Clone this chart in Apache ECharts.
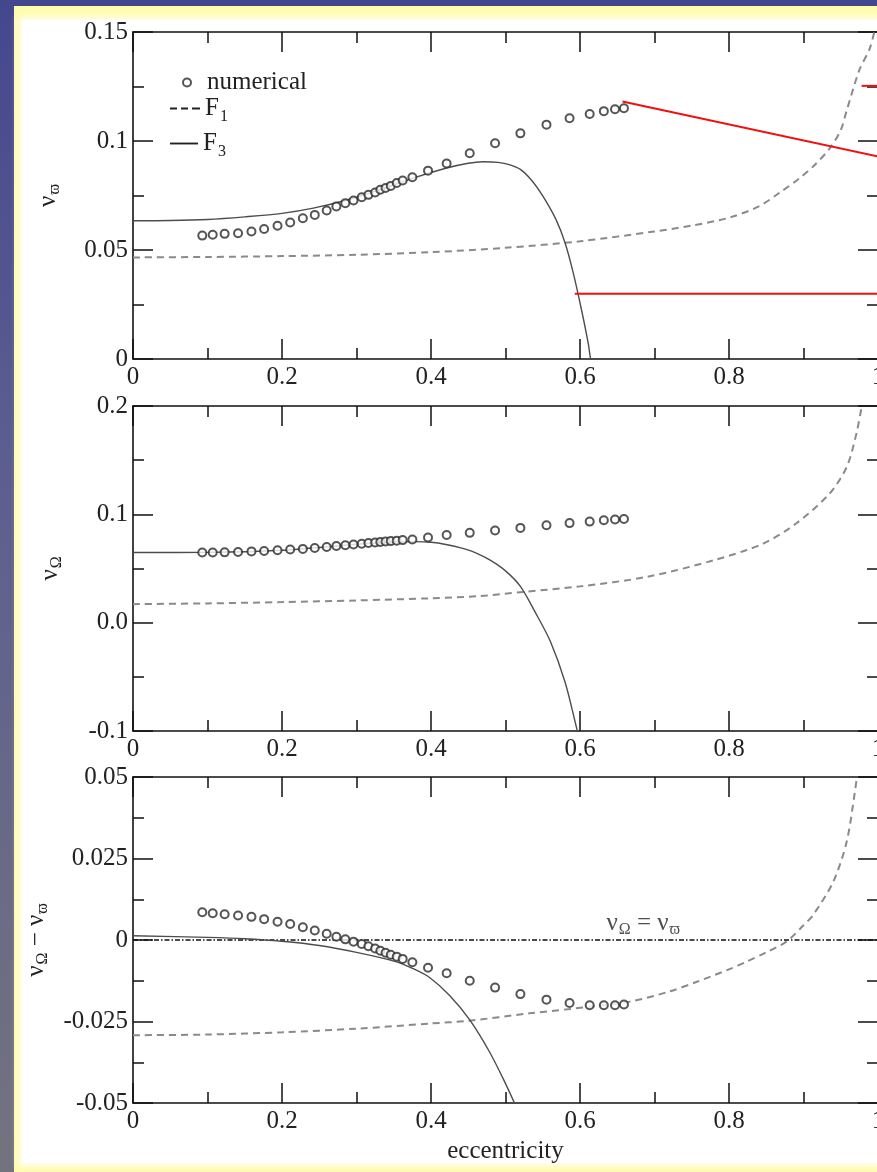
<!DOCTYPE html>
<html><head><meta charset="utf-8">
<script src="https://cdn.jsdelivr.net/npm/echarts@6/dist/echarts.min.js"></script>
<style>
html,body{margin:0;padding:0;width:877px;height:1172px;overflow:hidden;}
body{background:linear-gradient(to bottom,#45478e 0%,#5d5e90 40%,#73737f 100%);position:relative;}
#frame{position:absolute;left:14px;top:6px;right:0;bottom:0;background:#fffcab;}
#paper{position:absolute;left:22px;top:20px;right:0;bottom:9px;background:#fff;box-shadow:0 0 6px 4px #fffde8;}
#chart{position:absolute;left:0;top:0;width:877px;height:1172px;}
</style></head><body>
<div id="frame"></div><div id="paper"></div><div id="chart"></div>
<script>
// ---- data ----
const ecc = [0.093,0.107,0.123,0.141,0.159,0.176,0.194,0.211,0.228,0.244,0.260,0.273,0.285,0.296,0.307,0.316,0.325,0.332,0.339,0.346,0.354,0.362,0.375,0.396,0.421,0.452,0.486,0.520,0.555,0.586,0.613,0.632,0.647,0.659];
const numPeri = [0.0566,0.0570,0.0574,0.0577,0.0585,0.0596,0.0611,0.0626,0.0646,0.0661,0.0681,0.0700,0.0715,0.0727,0.0742,0.0753,0.0764,0.0776,0.0784,0.0794,0.0807,0.0819,0.0834,0.0864,0.0897,0.0944,0.0990,0.1035,0.1075,0.1104,0.1124,0.1137,0.1146,0.1150];
const numNode = [0.0648,0.0648,0.0649,0.0653,0.0658,0.0662,0.0668,0.0675,0.0681,0.0690,0.0699,0.0707,0.0714,0.0722,0.0729,0.0735,0.0741,0.0745,0.0749,0.0753,0.0757,0.0762,0.0768,0.0786,0.0810,0.0829,0.0850,0.0875,0.0900,0.0919,0.0933,0.0946,0.0952,0.0957];
const numDiff = [0.0085,0.0082,0.0079,0.0075,0.0071,0.0064,0.0056,0.0049,0.0039,0.0029,0.0019,0.0010,0.0002,-0.0005,-0.0012,-0.0019,-0.0026,-0.0033,-0.0039,-0.0045,-0.0051,-0.0058,-0.0068,-0.0085,-0.0102,-0.0125,-0.0146,-0.0166,-0.0183,-0.0193,-0.0200,-0.0200,-0.0200,-0.0198];

const f3PeriE = [0,0.05,0.1,0.15,0.2,0.242,0.286,0.331,0.376,0.421,0.45,0.47,0.49,0.505,0.52,0.535,0.55,0.568,0.58,0.591,0.602,0.611,0.614,0.616];
const f3PeriV = [0.0634,0.0635,0.0640,0.0652,0.0668,0.0692,0.0728,0.0776,0.0830,0.0876,0.0898,0.0905,0.0902,0.0892,0.0870,0.0820,0.0748,0.0638,0.0532,0.0394,0.0226,0.0073,0.0005,-0.0020];
const f1PeriE = [0,0.1,0.2,0.3,0.4,0.5,0.6,0.7,0.75,0.8,0.84,0.87,0.895,0.915,0.935,0.95,0.958,0.975,0.989,0.997];
const f1PeriV = [0.0466,0.0468,0.0472,0.0478,0.0490,0.0510,0.0540,0.0585,0.0612,0.0648,0.0700,0.0768,0.0830,0.0890,0.0965,0.1050,0.1140,0.1326,0.1425,0.1530];

const f3NodeE = [0,0.1,0.2,0.3,0.35,0.38,0.4,0.42,0.44,0.46,0.48,0.5,0.52,0.54,0.56,0.58,0.595,0.6];
const f3NodeV = [0.0648,0.0649,0.0668,0.0724,0.0745,0.0748,0.0742,0.0722,0.0690,0.0645,0.0575,0.0478,0.0335,0.0095,-0.0170,-0.0550,-0.0960,-0.1100];
const f1NodeE = [0,0.1,0.2,0.3,0.4,0.465,0.524,0.6,0.69,0.78,0.846,0.89,0.935,0.958,0.971,0.978,0.984];
const f1NodeV = [0.0171,0.0178,0.0190,0.0205,0.0225,0.0245,0.0284,0.0335,0.0423,0.0577,0.0730,0.0915,0.1192,0.1437,0.1745,0.1990,0.2200];

const f3DiffE = [0,0.1,0.15,0.2,0.25,0.3,0.354,0.376,0.398,0.425,0.452,0.479,0.501,0.512,0.518];
const f3DiffV = [0.0013,0.0008,0.0004,-0.0004,-0.0017,-0.0038,-0.0067,-0.0088,-0.0115,-0.0170,-0.0245,-0.0345,-0.0445,-0.0500,-0.0530];
const f1DiffE = [0,0.1,0.2,0.3,0.4,0.45,0.532,0.613,0.667,0.72,0.757,0.8,0.823,0.85,0.877,0.9,0.913,0.94,0.958,0.969,0.974];
const f1DiffV = [-0.0292,-0.0290,-0.0283,-0.0272,-0.0256,-0.0248,-0.0225,-0.0205,-0.0189,-0.0158,-0.0128,-0.0090,-0.0067,-0.0038,-0.0005,0.0045,0.0077,0.0179,0.0302,0.0455,0.0540];

const equalLineE = [0,1];
const equalLineV = [0,0];
const equalLabelAt = [0.685, 0];

// red annotation strokes over the top panel
const redA = [[0.657,0.1181],[1.0,0.0929]];
const redB = [[0.978,0.1253],[1.0,0.1253]];
const redC = [[0.593,0.0299],[1.0,0.0299]];

const xTickLabels = ['0','0.2','0.4','0.6','0.8','1'];
const yTickLabels1 = ['0','0.05','0.1','0.15'];
const yTickLabels2 = ['-0.1','0.0','0.1','0.2'];
const yTickLabels3 = ['-0.05','-0.025','0','0.025','0.05'];

// ---- chart ----
const FONT = 'Liberation Serif';
const INK = '#111';
const TXT = '#222';
const FS = 25;
const pairs = (xs, ys) => xs.map((x, i) => [x, ys[i]]);

const grids = [
  {left:133, top:32, width:745, height:327},
  {left:133, top:406, width:745, height:325},
  {left:133, top:777, width:745, height:326}
].map(g => Object.assign(g, {outerBoundsMode:'none', containLabel:false}));
const yCfg = [
  {min:0, max:0.15, interval:0.05, labels:yTickLabels1, name:'{n|ν}{s|ϖ}', gap:70},
  {min:-0.1, max:0.2, interval:0.1, labels:yTickLabels2, name:'{n|ν}{s|Ω}', gap:68},
  {min:-0.05, max:0.05, interval:0.025, labels:yTickLabels3, name:'{n|ν}{s|Ω}{n| − ν}{s|ϖ}', gap:82}
];
const richName = {
  n:{fontFamily:FONT, fontSize:FS, color:TXT},
  s:{fontFamily:FONT, fontSize:16, color:TXT, padding:[14,0,0,1]}
};
const tickStyle = {color:INK, width:1.5};
const xAxes = [], yAxes = [];
grids.forEach((g, i) => {
  const common = {
    type:'value', gridIndex:i, min:0, max:1, interval:0.2,
    axisLine:{show:true, onZero:false, lineStyle:{color:INK, width:1.6}},
    axisTick:{show:true, inside:true, length:20, lineStyle:tickStyle},
    minorTick:{show:true, splitNumber:2, length:11, lineStyle:tickStyle},
    splitLine:{show:false}, minorSplitLine:{show:false}
  };
  xAxes.push(Object.assign({}, common, {
    position:'bottom',
    axisLabel:{show:true, fontFamily:FONT, fontSize:FS, color:TXT, margin:6,
      showMinLabel:true, showMaxLabel:true,
      formatter:(v, idx) => xTickLabels[idx]},
    name: i === 2 ? 'eccentricity' : '',
    nameLocation:'middle', nameGap:36,
    nameTextStyle:{fontFamily:FONT, fontSize:FS, color:TXT}
  }));
  xAxes.push(Object.assign({}, common, {position:'top', axisLabel:{show:false}}));
  const y = yCfg[i];
  const ycommon = {
    type:'value', gridIndex:i, min:y.min, max:y.max, interval:y.interval,
    axisLine:{show:true, onZero:false, lineStyle:{color:INK, width:1.6}},
    axisTick:{show:true, inside:true, length:20, lineStyle:tickStyle},
    minorTick:{show:true, splitNumber:2, length:11, lineStyle:tickStyle},
    splitLine:{show:false}, minorSplitLine:{show:false}
  };
  yAxes.push(Object.assign({}, ycommon, {
    position:'left',
    axisLabel:{show:true, fontFamily:FONT, fontSize:FS, color:TXT, margin:5,
      showMinLabel:true, showMaxLabel:true,
      formatter:(v, idx) => y.labels[idx]},
    name:y.name, nameLocation:'middle', nameRotate:90, nameGap:y.gap,
    nameTextStyle:{fontFamily:FONT, fontSize:FS, color:TXT, rich:richName}
  }));
  yAxes.push(Object.assign({}, ycommon, {position:'right', axisLabel:{show:false}}));
});

const nums = [numPeri, numNode, numDiff];
const f1s = [pairs(f1PeriE, f1PeriV), pairs(f1NodeE, f1NodeV), pairs(f1DiffE, f1DiffV)];
const f3s = [pairs(f3PeriE, f3PeriV), pairs(f3NodeE, f3NodeV), pairs(f3DiffE, f3DiffV)];
const series = [];
for (let i = 0; i < 3; i++) {
  series.push({
    name:'F1', type:'line', xAxisIndex:2*i, yAxisIndex:2*i, data:f1s[i],
    symbol:'none', smooth:0.3, clip:true, silent:true, z:2,
    itemStyle:{color:'#8a8a8a'},
    lineStyle:{color:'#8a8a8a', width:2, type:[7,5]}
  });
  series.push({
    name:'F3', type:'line', xAxisIndex:2*i, yAxisIndex:2*i, data:f3s[i],
    symbol:'none', smooth:0.3, clip:true, silent:true, z:3,
    itemStyle:{color:'#4d4d4d'},
    lineStyle:{color:'#4d4d4d', width:1.4}
  });
  series.push({
    name:'numerical', type:'scatter', xAxisIndex:2*i, yAxisIndex:2*i,
    data:pairs(ecc, nums[i]), symbol:'emptyCircle', symbolSize:8, silent:true, z:4,
    itemStyle:{color:'#2b2b2b', borderWidth:1.3}
  });
}
series.push({
  name:'equal', type:'line', xAxisIndex:4, yAxisIndex:4, data:pairs(equalLineE, equalLineV),
  symbol:'none', silent:true, z:2, lineStyle:{color:'#111', width:1.5, type:[5,2,1.5,2]}
});
series.push({
  name:'equalLabel', type:'scatter', xAxisIndex:4, yAxisIndex:4, data:[equalLabelAt],
  symbol:'circle', symbolSize:0, silent:true, itemStyle:{color:'transparent'},
  label:{show:true, position:'top', distance:2, formatter:'{n|ν}{s|Ω}{n| = ν}{s|ϖ}', rich:richName}
});
[redA, redB, redC].forEach((d, k) => series.push({
  name:'red' + k, type:'line', xAxisIndex:0, yAxisIndex:0, data:d,
  symbol:'none', silent:true, z:6, clip:false, lineStyle:{color:'#f01010', width:2}
}));

const legendText = {fontFamily:FONT, fontSize:FS, color:TXT,
  rich:{n:{fontFamily:FONT, fontSize:FS, color:TXT}, s:{fontFamily:FONT, fontSize:16, color:TXT, padding:[16,0,0,1]}}};
const legendFmt = n => n === 'numerical' ? '{n|numerical}' : ('{n|F}{s|' + n.slice(1) + '}');
const dashIcon = 'path://M0,0h7v2h-7z M11,0h7v2h-7z M22,0h8v2h-8z';
const solidIcon = 'path://M0,0h30v2h-30z';
const legends = [
  {data:['numerical'], left:182, top:70, itemWidth:30, itemHeight:8},
  {data:[{name:'F1', icon:dashIcon}], left:170, top:96, itemWidth:30, itemHeight:2,
    itemStyle:{color:'#222'}},
  {data:[{name:'F3', icon:solidIcon}], left:170, top:131, itemWidth:28, itemHeight:2,
    itemStyle:{color:'#222'}}
].map(l => Object.assign(l, {orient:'vertical', selectedMode:false, itemGap:0, padding:0,
  textStyle:legendText, formatter:legendFmt}));

const chart = echarts.init(document.getElementById('chart'), null, {renderer:'canvas'});
chart.setOption({
  backgroundColor:'transparent',
  animation:false,
  grid:grids,
  xAxis:xAxes,
  yAxis:yAxes,
  legend:legends,
  series:series
});
</script></body></html>
